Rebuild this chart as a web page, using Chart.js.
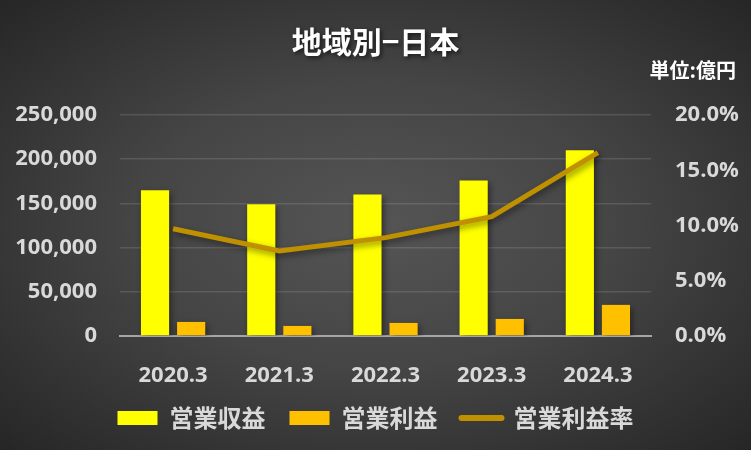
<!DOCTYPE html>
<html lang="ja">
<head>
  <meta charset="UTF-8">
  <title>地域別−日本</title>
  <style>
    body {
      margin: 0;
      background: #262626;
    }
    .chart-box {
      width: 751px;
      height: 450px;
      background: radial-gradient(ellipse at 50% 50%, #555555 0%, #454545 45%, #262626 100%);
    }
  </style>
</head>
<body>

  <div class="chart-box">
    <canvas id="regionChart"></canvas>
  </div>

  <script src="https://cdn.jsdelivr.net/npm/chart.js"></script>
  <script>
    // values (億円 / %)
    const categories = ['2020.3', '2021.3', '2022.3', '2023.3', '2024.3'];
    const revenue = [165000, 149000, 160000, 176000, 210000];
    const profit = [15900, 11400, 14800, 19300, 35200];
    const margin = [9.7, 7.7, 8.9, 10.8, 16.6];
    const seriesNames = ['営業収益', '営業利益', '営業利益率'];

    const numFont = { family: "'Open Sans', 'Noto Sans CJK JP', sans-serif", size: 22, weight: 'bold' };
    const jpFont = "'Noto Sans CJK JP', sans-serif";

    // drop shadow under bars and line, like the Excel original
    const shadowPlugin = {
      id: 'shadow',
      beforeDatasetDraw(chart) {
        const c = chart.ctx;
        c.save();
        c.shadowColor = 'rgba(0, 0, 0, 0.45)';
        c.shadowBlur = 6;
        c.shadowOffsetX = 2;
        c.shadowOffsetY = 3;
      },
      afterDatasetDraw(chart) {
        chart.ctx.restore();
      }
    };

    // title and unit label
    const headerPlugin = {
      id: 'header',
      afterDraw(chart) {
        const c = chart.ctx;
        c.save();
        c.shadowColor = 'rgba(0, 0, 0, 0.6)';
        c.shadowBlur = 4;
        c.shadowOffsetX = 2;
        c.shadowOffsetY = 2;
        c.fillStyle = '#FFFFFF';
        c.textBaseline = 'middle';
        c.textAlign = 'center';
        c.font = 'bold 30px ' + jpFont;
        c.fillText('地域別−日本', chart.width / 2, 42);
        c.shadowColor = 'transparent';
        c.textAlign = 'right';
        c.font = 'bold 20px ' + jpFont;
        c.fillText('単位:億円', chart.width - 15, 70);
        c.restore();
      }
    };

    const ctx = document.getElementById('regionChart').getContext('2d');
    new Chart(ctx, {
      type: 'bar',
      data: {
        labels: categories,
        datasets: [
          {
            label: seriesNames[0],
            data: revenue,
            backgroundColor: '#FFFF00',
            yAxisID: 'y',
            order: 1
          },
          {
            label: seriesNames[1],
            data: profit,
            backgroundColor: '#FFC000',
            yAxisID: 'y',
            order: 1
          },
          {
            type: 'line',
            label: seriesNames[2],
            data: margin,
            borderColor: '#BF9000',
            backgroundColor: '#BF9000',
            borderWidth: 5,
            pointRadius: 0,
            tension: 0,
            yAxisID: 'y1',
            order: 0
          }
        ]
      },
      options: {
        responsive: true,
        maintainAspectRatio: false,
        animation: false,
        layout: {
          padding: { top: 115, left: 0, right: 0, bottom: 10 }
        },
        datasets: {
          bar: {
            categoryPercentage: 0.68,
            barPercentage: 0.78
          }
        },
        scales: {
          x: {
            grid: { display: false },
            border: { color: '#A6A6A6', width: 2 },
            ticks: { color: '#D9D9D9', font: numFont, padding: 19 },
            afterFit(scale) { scale.height = 46; }
          },
          y: {
            min: 0,
            max: 250000,
            ticks: {
              stepSize: 50000,
              color: '#D9D9D9',
              font: numFont,
              padding: 23,
              callback: v => v.toLocaleString('en-US')
            },
            grid: { color: 'rgba(255, 255, 255, 0.12)', lineWidth: 1.5, drawTicks: false },
            border: { display: false },
            afterFit(scale) { scale.width = 120; }
          },
          y1: {
            position: 'right',
            min: 0,
            max: 20,
            ticks: {
              stepSize: 5,
              color: '#D9D9D9',
              font: numFont,
              padding: 24,
              callback: v => v.toFixed(1) + '%'
            },
            grid: { display: false, drawTicks: false },
            border: { display: false },
            afterFit(scale) { scale.width = 100; }
          }
        },
        plugins: {
          legend: {
            position: 'bottom',
            labels: {
              color: '#D9D9D9',
              font: { family: jpFont, size: 24, weight: 'bold' },
              usePointStyle: true,
              pointStyleWidth: 40,
              boxHeight: 14,
              padding: 24,
              generateLabels(chart) {
                return chart.data.datasets.map((ds, i) => ({
                  text: ds.label,
                  datasetIndex: i,
                  fillStyle: ds.backgroundColor,
                  strokeStyle: ds.type === 'line' ? ds.borderColor : ds.backgroundColor,
                  lineWidth: ds.type === 'line' ? 6 : 0,
                  lineCap: 'round',
                  pointStyle: ds.type === 'line' ? 'line' : 'rect',
                  fontColor: '#D9D9D9',
                  hidden: false
                }));
              }
            }
          },
          title: { display: false },
          tooltip: { enabled: false }
        }
      },
      plugins: [shadowPlugin, headerPlugin]
    });
  </script>

</body>
</html>
